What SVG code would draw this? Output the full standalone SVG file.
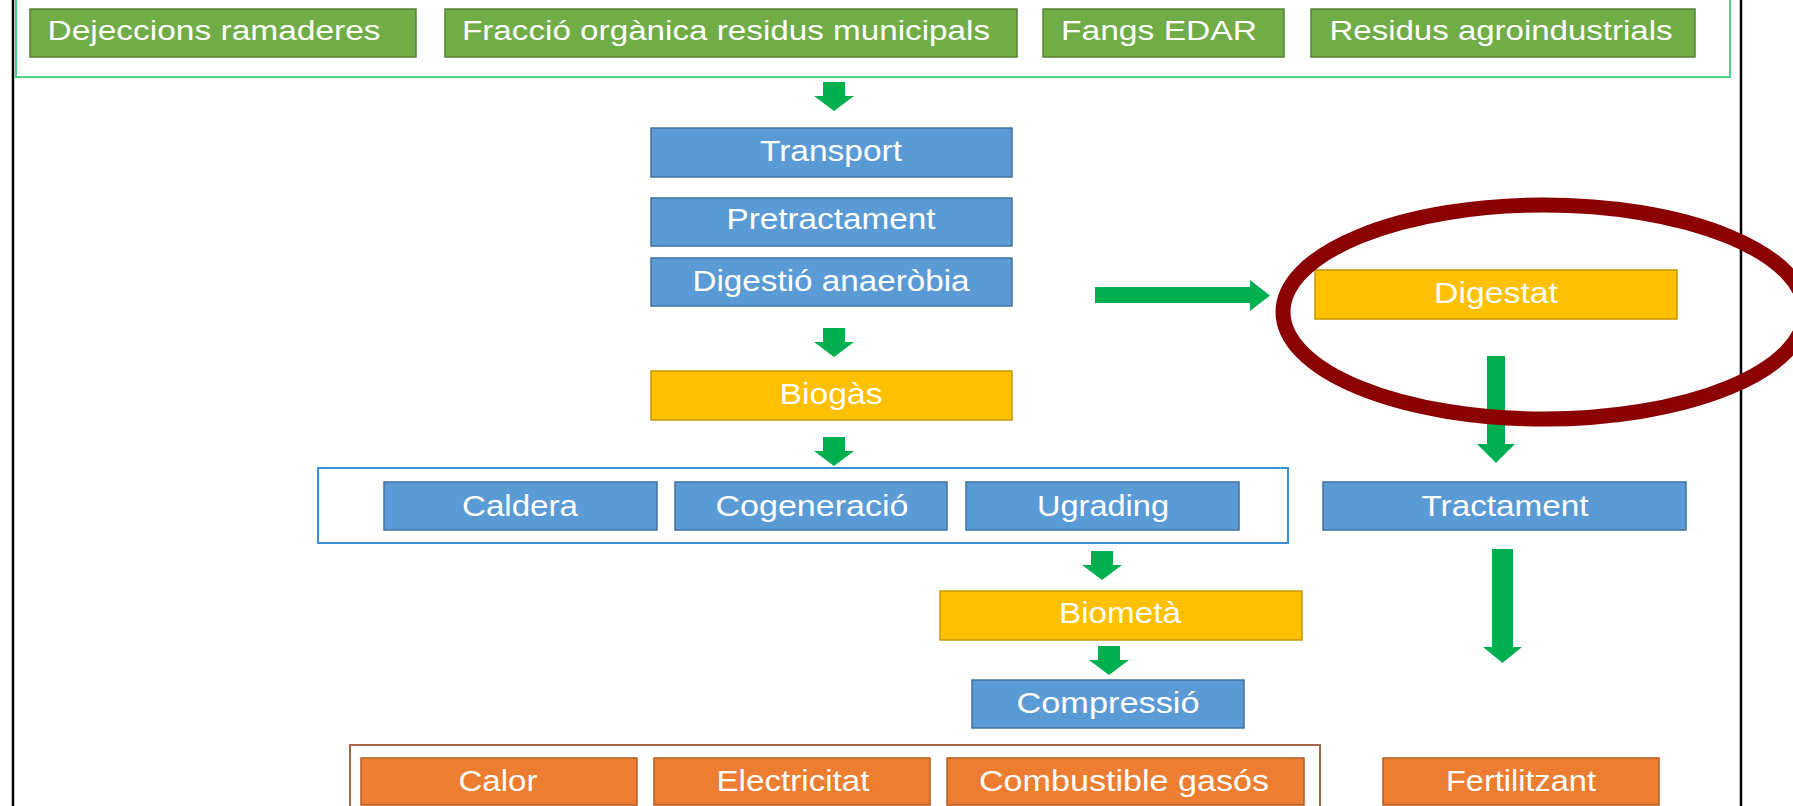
<svg xmlns="http://www.w3.org/2000/svg" width="1793" height="806" viewBox="0 0 1793 806">
<style>
.g{fill:#70ad47;stroke:#548235;stroke-width:1.5}
.b{fill:#5b9bd5;stroke:#41719c;stroke-width:1.5}
.y{fill:#ffc000;stroke:#c99700;stroke-width:1.5}
.o{fill:#ed7d31;stroke:#b35c22;stroke-width:1.5}
text{font-family:"Liberation Sans",Arial,sans-serif;font-size:29px;fill:#ffffff;text-anchor:middle}
.t{font-size:27px}
.arr{fill:#00b050}
</style>
<rect width="1793" height="806" fill="#ffffff"/>
<line x1="13" y1="0" x2="13" y2="806" stroke="#000" stroke-width="2.5"/>
<line x1="1741" y1="0" x2="1741" y2="806" stroke="#000" stroke-width="2.5"/>
<rect id="sources-frame" x="16" y="-10" width="1714" height="87" fill="none" stroke="#4fd08a" stroke-width="2"/>
<rect id="uses-frame" x="318" y="468" width="970" height="75" fill="none" stroke="#3f8fd6" stroke-width="2"/>
<rect id="products-frame" x="350" y="745" width="970" height="80" fill="none" stroke="#a5674a" stroke-width="2"/>

<g id="n-dejeccions"><rect class="g" x="30" y="9" width="386" height="48"/><text class="t" x="214" y="40" textLength="333" lengthAdjust="spacingAndGlyphs">Dejeccions ramaderes</text></g>
<g id="n-form"><rect class="g" x="445" y="9" width="572" height="48"/><text class="t" x="726" y="40" textLength="528" lengthAdjust="spacingAndGlyphs">Fracció orgànica residus municipals</text></g>
<g id="n-fangs"><rect class="g" x="1043" y="9" width="241" height="48"/><text class="t" x="1159" y="40" textLength="196" lengthAdjust="spacingAndGlyphs">Fangs EDAR</text></g>
<g id="n-agro"><rect class="g" x="1311" y="9" width="384" height="48"/><text class="t" x="1501" y="40" textLength="343" lengthAdjust="spacingAndGlyphs">Residus agroindustrials</text></g>

<g id="n-transport"><rect class="b" x="651" y="128" width="361" height="49"/><text x="831" y="161" textLength="142" lengthAdjust="spacingAndGlyphs">Transport</text></g>
<g id="n-pretractament"><rect class="b" x="651" y="198" width="361" height="48"/><text x="831" y="229" textLength="209" lengthAdjust="spacingAndGlyphs">Pretractament</text></g>
<g id="n-digestio"><rect class="b" x="651" y="258" width="361" height="48"/><text x="831" y="291" textLength="277" lengthAdjust="spacingAndGlyphs">Digestió anaeròbia</text></g>
<g id="n-biogas"><rect class="y" x="651" y="371" width="361" height="49"/><text x="831" y="404" textLength="103" lengthAdjust="spacingAndGlyphs">Biogàs</text></g>
<g id="n-digestat"><rect class="y" x="1315" y="270" width="362" height="49"/><text x="1496" y="303" textLength="124" lengthAdjust="spacingAndGlyphs">Digestat</text></g>

<g id="n-caldera"><rect class="b" x="384" y="482" width="273" height="48"/><text x="520" y="516" textLength="116" lengthAdjust="spacingAndGlyphs">Caldera</text></g>
<g id="n-cogeneracio"><rect class="b" x="675" y="482" width="272" height="48"/><text x="812" y="516" textLength="193" lengthAdjust="spacingAndGlyphs">Cogeneració</text></g>
<g id="n-ugrading"><rect class="b" x="966" y="482" width="273" height="48"/><text x="1103" y="516" textLength="132" lengthAdjust="spacingAndGlyphs">Ugrading</text></g>
<g id="n-tractament"><rect class="b" x="1323" y="482" width="363" height="48"/><text x="1505" y="516" textLength="167" lengthAdjust="spacingAndGlyphs">Tractament</text></g>

<g id="n-biometa"><rect class="y" x="940" y="591" width="362" height="49"/><text x="1120" y="623" textLength="122" lengthAdjust="spacingAndGlyphs">Biometà</text></g>
<g id="n-compressio"><rect class="b" x="972" y="680" width="272" height="48"/><text x="1108" y="713" textLength="183" lengthAdjust="spacingAndGlyphs">Compressió</text></g>

<g id="n-calor"><rect class="o" x="361" y="758" width="276" height="47"/><text x="498" y="791" textLength="79" lengthAdjust="spacingAndGlyphs">Calor</text></g>
<g id="n-electricitat"><rect class="o" x="654" y="758" width="276" height="47"/><text x="793" y="791" textLength="153" lengthAdjust="spacingAndGlyphs">Electricitat</text></g>
<g id="n-combustible"><rect class="o" x="947" y="758" width="357" height="47"/><text x="1124" y="791" textLength="290" lengthAdjust="spacingAndGlyphs">Combustible gasós</text></g>
<g id="n-fertilitzant"><rect class="o" x="1383" y="758" width="276" height="47"/><text x="1521" y="791" textLength="150" lengthAdjust="spacingAndGlyphs">Fertilitzant</text></g>

<g id="connectors">
<polygon class="arr" points="823,82 845,82 845,96 854,96 834,111 814,96 823,96"/>
<polygon class="arr" points="823,328 845,328 845,342 854,342 834,357 814,342 823,342"/>
<polygon class="arr" points="823,437 845,437 845,451 854,451 834,466 814,451 823,451"/>
<polygon class="arr" points="1091,551 1113,551 1113,565 1122,565 1102,580 1082,565 1091,565"/>
<polygon class="arr" points="1098,646 1120,646 1120,660 1129,660 1109,675 1089,660 1098,660"/>
<polygon class="arr" points="1095,287 1250,287 1250,280 1270,295.5 1250,311 1250,303 1095,303"/>
<polygon class="arr" points="1487,356 1505,356 1505,444 1515,444 1496,463 1477,444 1487,444"/>
<polygon class="arr" points="1492,549 1513,549 1513,647 1522,647 1502.5,663 1483,647 1492,647"/>
</g>
<ellipse id="highlight" cx="1544" cy="312" rx="261" ry="107" fill="none" stroke="#8b0000" stroke-width="15"/>
</svg>
